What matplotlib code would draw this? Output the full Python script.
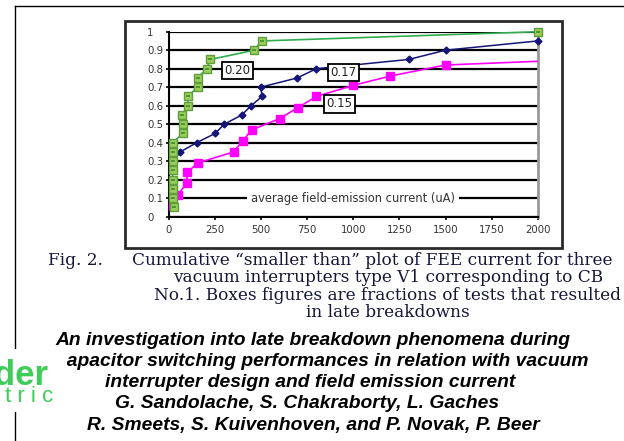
import matplotlib
matplotlib.use("Agg")
import matplotlib.pyplot as plt
from matplotlib.patches import Rectangle

# === DATA ===
# green: squares, fraction 0.20
green_x = [25, 20, 20, 20, 20, 20, 20, 20, 75, 78, 73, 103, 102, 155, 155, 204, 225, 463, 502, 2000]
green_y = [0.05, 0.10, 0.15, 0.20, 0.25, 0.30, 0.35, 0.40, 0.45, 0.50,
           0.55, 0.60, 0.65, 0.70, 0.75, 0.80, 0.85, 0.90, 0.95, 1.00]

# navy: diamonds, fraction 0.17
blue_x = [25, 60, 150, 250, 300, 395, 445, 505, 497, 695, 800, 1300, 1500, 2000]
blue_y = [0.30, 0.35, 0.40, 0.45, 0.50, 0.55, 0.60, 0.65, 0.70, 0.75, 0.80, 0.85, 0.90, 0.95]

# magenta: squares, fraction 0.15 (line runs on past the last marker)
magenta_x = [20, 50, 95, 100, 155, 350, 400, 450, 600, 700, 800, 1000, 1200, 1500, 2000]
magenta_y = [0.06, 0.12, 0.18, 0.24, 0.29, 0.35, 0.41, 0.47, 0.53, 0.59, 0.65, 0.71, 0.76, 0.82, 0.84]

box_labels = ["0.20", "0.17", "0.15"]
box_x = [370, 945, 925]
box_y = [0.79, 0.78, 0.61]

x_ticks = [0, 250, 500, 750, 1000, 1250, 1500, 1750, 2000]
y_ticks = [0, 0.1, 0.2, 0.3, 0.4, 0.5, 0.6, 0.7, 0.8, 0.9, 1.0]
y_tick_labels = ["0", "0.1", "0.2", "0.3", "0.4", "0.5", "0.6", "0.7", "0.8", "0.9", "1"]

caption_lines = [
    "Cumulative \u201csmaller than\u201d plot of FEE current for three",
    "vacuum interrupters type V1 corresponding to CB",
    "No.1. Boxes figures are fractions of tests that resulted",
    "in late breakdowns",
]
title_lines = [
    "An investigation into late breakdown phenomena during",
    "capacitor switching performances in relation with vacuum",
    "interrupter design and field emission current",
    "G. Sandolache, S. Chakraborty, L. Gaches",
    "R. Smeets, S. Kuivenhoven, and P. Novak, P. Beer",
]
title_centers = [313, 322, 310, 307, 313]
title_baselines = [345, 366, 387, 408, 430]

# === FIGURE ===
W, H = 624, 441
fig = plt.figure(figsize=(W / 100, H / 100), dpi=100)
fig.patch.set_facecolor("white")

# page overlay in pixel coordinates
bg = fig.add_axes([0, 0, 1, 1], zorder=0)
bg.set_xlim(0, W)
bg.set_ylim(H, 0)
bg.axis("off")

bg.plot([15, W], [6, 6], color="black", lw=1)
bg.plot([15, 15], [6, H], color="black", lw=1)
bg.add_patch(Rectangle((125, 21), 437, 227, fill=False, ec="#2a2a2a", lw=2))

# caption
cap_color = "#16163a"
cap_size = 12.2
bg.text(48, 265, "Fig. 2.", family="DejaVu Serif", fontsize=cap_size, color=cap_color, va="baseline")
bg.text(132, 265, caption_lines[0], family="DejaVu Serif", fontsize=cap_size, color=cap_color,
        va="baseline")
for line, yb in zip(caption_lines[1:], [282, 300, 317]):
    bg.text(388, yb, line, family="DejaVu Serif", fontsize=cap_size, color=cap_color,
            va="baseline", ha="center")

# title block
for line, xc, yb in zip(title_lines, title_centers, title_baselines):
    bg.text(xc, yb, line, family="Liberation Sans", fontsize=13.85, fontweight="bold",
            fontstyle="italic", color="black", va="baseline", ha="center")

# logo corner (covers the start of the second title line)
bg.add_patch(Rectangle((0, 349), 67, 26, fc="white", ec="none", zorder=5))
bg.add_patch(Rectangle((0, 349), 57, 63, fc="white", ec="none", zorder=5))
bg.text(48, 385, "Schneider", family="Liberation Sans", fontsize=25, fontweight="bold",
        color="#3dcd58", ha="right", va="baseline", zorder=6)
bg.text(53, 402, "E l e c t r i c", family="Liberation Sans", fontsize=16,
        color="#3dcd58", ha="right", va="baseline", zorder=6)

# === CHART ===
ax = fig.add_axes([169 / W, 1 - 216.7 / H, 368.7 / W, 185 / H], zorder=1)
ax.set_xlim(0, 2000)
ax.set_ylim(0, 1)
ax.set_xticks(x_ticks)
ax.set_yticks(y_ticks)
ax.set_yticklabels(y_tick_labels)
ax.yaxis.grid(True, color="black", lw=1.6)
ax.set_axisbelow(True)

ax.spines["top"].set_visible(False)
ax.spines["right"].set_color("#999999")
ax.spines["right"].set_linewidth(2)
ax.spines["left"].set_linewidth(1.5)
ax.spines["bottom"].set_linewidth(1.5)

ax.tick_params(direction="out", length=2.2, width=1.2, labelsize=7.3, labelcolor="#333333")
ax.tick_params(axis="x", pad=4)
ax.tick_params(axis="y", pad=13.6)
for lbl in ax.get_yticklabels():
    lbl.set_horizontalalignment("left")

ax.plot(magenta_x, magenta_y, color="#ff00ff", lw=1.2, marker="s", ms=5.5,
        markevery=slice(0, len(magenta_x) - 1), zorder=3)
ax.plot(blue_x, blue_y, color="#14147a", lw=1.1, marker="D", ms=3.5, zorder=4, clip_on=False)
ax.plot(green_x, green_y, color="#2fae4e", lw=1.2, marker="s", ms=6,
        mfc="#9acd5a", mec="#5f9e3c", mew=1, zorder=5, clip_on=False)
ax.plot(green_x, green_y, ls="none", marker="_", ms=3, mew=1.2, color="#3e8e2e",
        zorder=6, clip_on=False)

ax.text(1000, 0.1, "average field-emission current (uA)", ha="center", va="center",
        fontsize=8.3, color="#333333", zorder=7,
        bbox=dict(boxstyle="square,pad=0.35", fc="white", ec="none"))

for s, bx, by in zip(box_labels, box_x, box_y):
    ax.text(bx, by, s, ha="center", va="center", fontsize=8.5, color="#222222", zorder=8,
            bbox=dict(boxstyle="square,pad=0.2", fc="white", ec="black", lw=1.3))

fig.savefig("out.png", dpi=100)
